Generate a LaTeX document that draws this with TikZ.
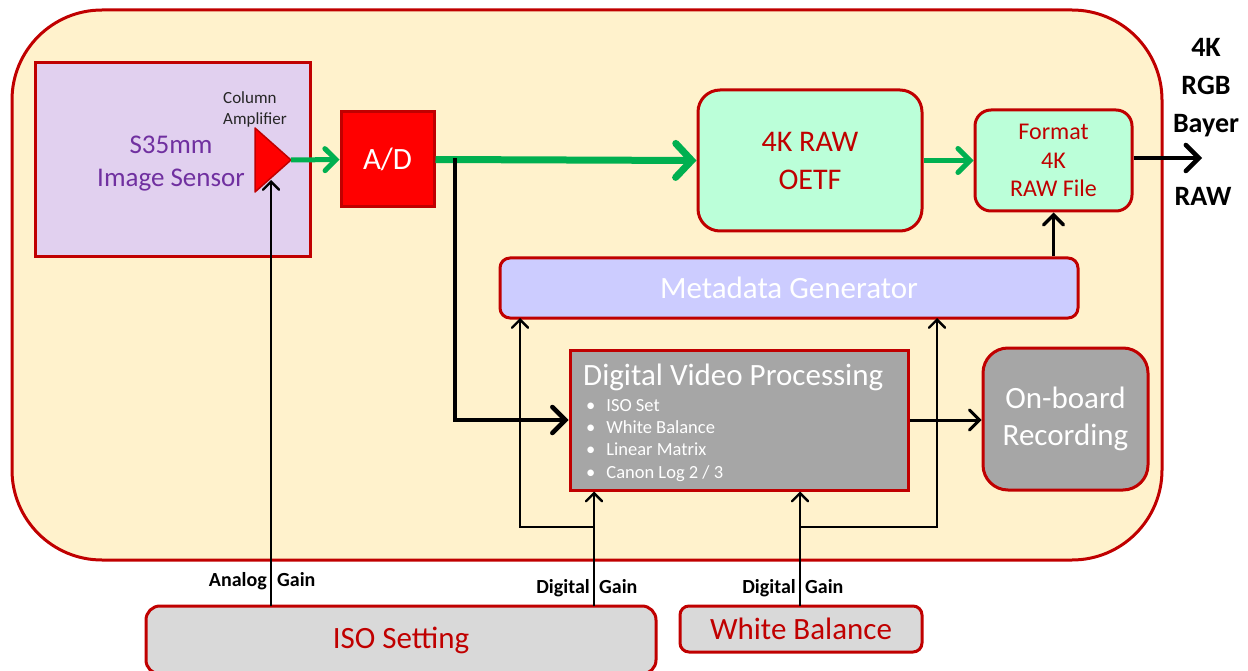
\documentclass[tikz,border=0pt]{standalone}
\usepackage{fontspec}
\setmainfont{Carlito}
\usetikzlibrary{arrows.meta}
\definecolor{bord}{HTML}{C00000}
\definecolor{bgy}{HTML}{FFF2CC}
\definecolor{lav}{HTML}{E1D0EF}
\definecolor{purp}{HTML}{7030A0}
\definecolor{mint}{HTML}{BBFFD9}
\definecolor{peri}{HTML}{CCCCFF}
\definecolor{gr}{HTML}{A6A6A6}
\definecolor{lgr}{HTML}{D9D9D9}
\definecolor{grn}{HTML}{00B050}
\tikzset{
  box/.style={draw=bord, line width=3pt, inner sep=0pt, align=center},
  thin/.style={line width=2.4pt, -{Straight Barb[length=8pt,width=16pt,line cap=round]}},
  lbl/.style={font={\fontsize{20}{22}\selectfont\bfseries}, inner sep=0pt},
}
\begin{document}
\begin{tikzpicture}[x=1pt,y=-1pt]
\useasboundingbox (0,0) rectangle (1248,671);
\clip (0,0) rectangle (1248,671);
% outer
\node[box, fill=bgy, rounded corners=90pt, minimum width=1150pt, minimum height=550pt] (outer) at (587,285) {};
% sensor
\node[box, fill=lav, minimum width=275pt, minimum height=194pt] (sensor) at (172.5,160) {};
\node[text=purp, align=center, font={\fontsize{27}{33}\selectfont}] (sensortxt) at (171,164) {S35mm\\Image Sensor};
\node[anchor=north west, inner sep=0pt, align=left, font={\fontsize{17}{21}\selectfont}, text=black!85] (coltxt) at (223,91) {Column\\Amplifier};
% amplifier
\draw[fill=red, draw=bord, line width=1.5pt, line join=round] (255,128) -- (291,160) -- (255,192) -- cycle;
\coordinate (amp) at (291,160);
\coordinate (ampb) at (271,180);
% A/D
\node[box, fill=red, text=white, minimum width=93pt, minimum height=95pt, font={\fontsize{31}{34}\selectfont}] (ad) at (387.5,159.5) {A/D};
% OETF
\node[box, fill=mint, text=bord, rounded corners=22pt, minimum width=224pt, minimum height=141pt, font={\fontsize{30}{38}\selectfont}] (oetf) at (810,160.5) {4K RAW\\OETF};
% Format
\node[box, fill=mint, text=bord, rounded corners=16pt, minimum width=157pt, minimum height=101pt, font={\fontsize{24}{28.5}\selectfont}] (fmt) at (1053.5,160.5) {Format\\4K\\RAW File};
% output labels
\node[font={\fontsize{28}{38}\selectfont\bfseries}, align=center, inner sep=0pt] (rgb) at (1206,88) {4K\\RGB\\Bayer};
\node[font={\fontsize{28}{30}\selectfont\bfseries}, inner sep=0pt] (raw) at (1203,196) {RAW};
\coordinate (out) at (1202,158);
% metadata
\node[box, fill=peri, text=white, rounded corners=10pt, minimum width=578pt, minimum height=60pt, font={\fontsize{31}{34}\selectfont}] (meta) at (789,288) {Metadata Generator};
% DVP
\node[box, fill=gr, minimum width=338pt, minimum height=140pt] (dvp) at (739,420) {};
\node[anchor=base west, inner sep=0pt, text=white, font={\fontsize{31}{34}\selectfont}] (dvpt) at (583,385) {Digital Video Processing};
\node[anchor=north west, inner sep=0pt, text=white, align=left, font={\fontsize{18.5}{22.3}\selectfont}] (dvpl) at (586,399) {\textbullet\hspace{11pt}ISO Set\\\textbullet\hspace{11pt}White Balance\\\textbullet\hspace{11pt}Linear Matrix\\\textbullet\hspace{11pt}Canon Log 2 / 3};
% Onboard
\node[box, fill=gr, text=white, rounded corners=25pt, minimum width=165pt, minimum height=142pt, font={\fontsize{31}{37}\selectfont}] (onb) at (1065.5,419) {On-board\\Recording};
% ISO Setting
\node[box, fill=lgr, text=bord, rounded corners=14pt, minimum width=510pt, minimum height=68pt, font={\fontsize{31}{34}\selectfont}] (iso) at (401,640) {ISO Setting};
% White Balance
\node[box, fill=lgr, text=bord, rounded corners=9pt, minimum width=242pt, minimum height=46pt, font={\fontsize{31}{34}\selectfont}] (wb) at (801,629) {White Balance};
% gain labels
\node[lbl, anchor=base east] (al) at (267,586) {Analog};
\node[lbl, anchor=base west] (ag) at (277,586) {Gain};
\node[lbl, anchor=base east] (dl1) at (590,593) {Digital};
\node[lbl, anchor=base west] (dg1) at (599,593) {Gain};
\node[lbl, anchor=base east] (dl2) at (796,593) {Digital};
\node[lbl, anchor=base west] (dg2) at (805,593) {Gain};
% coordinates
\coordinate (j1) at (455,160);
\coordinate (isoA) at (271,606);
\coordinate (isoD) at (594,606);
\coordinate (wbD) at (800,606);
\coordinate (b1) at (594,527);
\coordinate (b2) at (800,527);
\coordinate (m1) at (520,318);
\coordinate (m2) at (937,318);
% connectors
\draw[grn, line width=5pt, -{Straight Barb[length=11pt,width=22pt,line cap=round]}] (amp) -- (ad.west);
\draw[grn, line width=7pt, -{Straight Barb[length=16pt,width=34pt,line cap=round]}] (ad.east) -- (oetf.west);
\draw[grn, line width=5pt, -{Straight Barb[length=12pt,width=24pt,line cap=round]}] (oetf.east) -- (fmt.west);
\draw[line width=4.5pt, -{Straight Barb[length=13pt,width=26pt,line cap=round]}] (fmt.east |- out) -- (out);
\draw[line width=3.5pt, -{Straight Barb[length=10pt,width=20pt,line cap=round]}] (fmt.south |- meta.north) -- (fmt.south);
\draw[line width=4.5pt, -{Straight Barb[length=13pt,width=26pt,line cap=round]}] ([yshift=2pt]j1) |- (dvp.west);
\draw[line width=3pt, -{Straight Barb[length=10pt,width=20pt,line cap=round]}] (dvp.east) -- (dvp.east -| onb.west);
\draw[thin] (isoA) -- (ampb);
\draw[thin] (isoD) -- (isoD |- dvp.south);
\draw[thin] (wbD) -- (wbD |- dvp.south);
\draw[thin, line join=miter] (b1) -| (m1);
\draw[thin, line join=miter] (b2) -| (m2);
\end{tikzpicture}
\end{document}
